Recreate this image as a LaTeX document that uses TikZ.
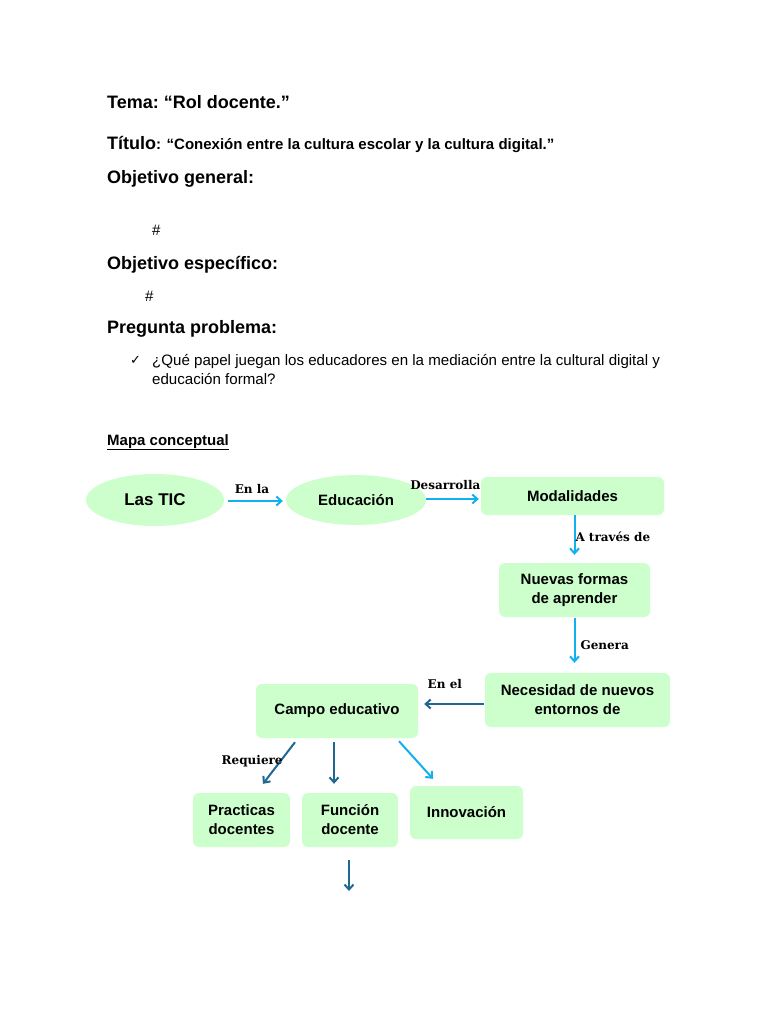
\documentclass[tikz,border=0pt]{standalone}
\usepackage{fontspec}
\setmainfont{Liberation Sans}
\newfontfamily\labelfont{DejaVu Serif}
\newfontfamily\symbolfont{DejaVu Sans}
\usepackage{xcolor}
\usetikzlibrary{positioning, arrows.meta, shapes.geometric}

\definecolor{boxgreen}{HTML}{CCFFCC}
\definecolor{lightblue}{HTML}{12B0F0}
\definecolor{darkblue}{HTML}{1F6893}

\begin{document}
\begin{tikzpicture}[
  x=1pt, y=-1pt,
  >={Straight Barb[length=5pt, width=9pt]},
  heading/.style={anchor=base west, inner sep=0pt,
    font=\fontsize{18}{22}\selectfont\bfseries},
  bodytext/.style={anchor=base west, inner sep=0pt, align=left,
    font=\fontsize{15.1}{19}\selectfont},
  ovalnode/.style={ellipse, fill=boxgreen, minimum width=138pt,
    minimum height=52pt, font=\fontsize{17}{20}\selectfont\bfseries},
  concept/.style={rectangle, rounded corners=6pt, fill=boxgreen,
    align=center, inner sep=2pt, font=\fontsize{15}{19}\selectfont\bfseries},
  linklabel/.style={inner sep=0pt, text=black,
    font=\labelfont\fontsize{12}{14}\selectfont\bfseries},
  lightarrow/.style={->, lightblue, line width=2pt},
  darkarrow/.style={->, darkblue, line width=2pt},
]
\useasboundingbox[fill=white] (0,0) rectangle (768,1024);

% ===== Header text =====
\node[heading] (tema) at (107,109) {Tema:~“Rol docente.”};
\node[heading] (titulo) at (107,150)
  {Título\fontsize{15}{18}\selectfont: “Conexión entre la cultura escolar y la cultura digital.”};
\node[heading] (objgeneral) at (107,184) {Objetivo general:};
\node[bodytext] (hashgeneral) at (152,236) {\#};
\node[heading] (objespecifico) at (107,269) {Objetivo específico:};
\node[bodytext] (hashespecifico) at (145,301) {\#};
\node[heading] (pregunta) at (107,333) {Pregunta problema:};
\node[bodytext, font=\symbolfont\fontsize{13}{15}\selectfont] (check) at (130,364) {✓};
\node[bodytext] (preguntatext) at (152,384)
  {¿Qué papel juegan los educadores en la mediación entre la cultural digital y\\
   educación formal?};
\node[bodytext, font=\fontsize{15}{19}\selectfont\bfseries] (mapa) at (107,445)
  {\underline{Mapa conceptual}};

% ===== Concept map =====
\node[ovalnode] (tic) at (155,500) {Las TIC};
\node[ovalnode, minimum width=140pt, minimum height=50pt,
  font=\fontsize{15}{19}\selectfont\bfseries] (educacion) at (356,500) {Educación};
\node[concept, minimum width=183pt, minimum height=38pt] (modalidades) at (572.5,496) {Modalidades};
\node[concept, minimum width=151pt, minimum height=54pt] (nuevas) at (574.5,590)
  {Nuevas formas\\de aprender};
\node[concept, minimum width=185pt, minimum height=54pt] (necesidad) at (577.5,700)
  {Necesidad de nuevos\\entornos de};
\node[concept, minimum width=162pt, minimum height=54pt] (campo) at (337,711) {Campo educativo};
\node[concept, minimum width=97pt, minimum height=54pt] (practicas) at (241.5,820)
  {Practicas\\docentes};
\node[concept, minimum width=96pt, minimum height=54pt] (funcion) at (350,820)
  {Función\\docente};
\node[concept, minimum width=113pt, minimum height=53pt] (innovacion) at (466.5,812.5) {Innovación};
\coordinate (siguiente) at (349,891);

% Arrows
\draw[lightarrow, shorten <=4pt, shorten >=3pt] ([yshift=-1pt]tic.east) -- ([yshift=-1pt]educacion.west)
  node[linklabel, midway, above=6pt, xshift=-3pt] {En la};
\draw[lightarrow, shorten >=2pt] ([yshift=1pt]educacion.east) -- ([yshift=1pt]educacion.east -| modalidades.west)
  node[linklabel, pos=0.35, above=8pt] {Desarrolla};
\draw[lightarrow, shorten >=8pt] (modalidades.south -| nuevas.north) -- (nuevas.north)
  node[linklabel, pos=0.45, right=0pt] {A través de};
\draw[lightarrow, shorten <=1pt, shorten >=10pt] (nuevas.south) -- (nuevas.south |- necesidad.north)
  node[linklabel, pos=0.5, right=5pt] {Genera};
\draw[darkarrow, shorten <=1pt, shorten >=6pt] ([yshift=-4pt]necesidad.west) -- ([yshift=-4pt]necesidad.west -| campo.east)
  node[linklabel, pos=0.6, above=14pt] {En el};
\draw[darkarrow] ([xshift=-42pt, yshift=-4pt]campo.south) -- ([xshift=21.5pt, yshift=9pt]practicas.north)
  node[linklabel, pos=0.45, anchor=east, xshift=3pt] {Requiere};
\draw[darkarrow] ([xshift=-3pt, yshift=-4pt]campo.south) -- ([xshift=-16pt, yshift=9pt]funcion.north);
\draw[lightarrow] ([xshift=62pt, yshift=-3pt]campo.south) -- ([xshift=-33.5pt, yshift=7pt]innovacion.north);
\draw[darkarrow, shorten <=13pt] (funcion.south -| siguiente) -- (siguiente);

\end{tikzpicture}
\end{document}
